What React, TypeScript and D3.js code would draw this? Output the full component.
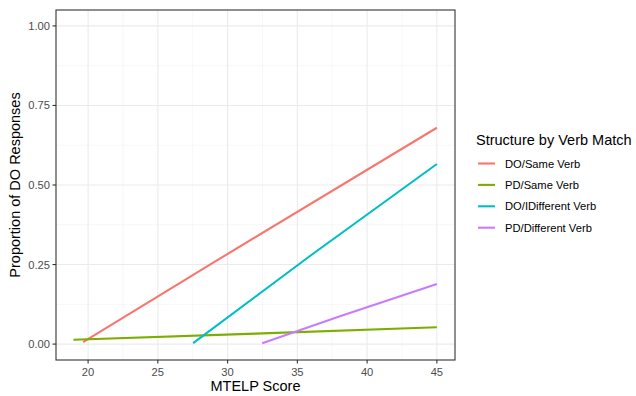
import React from "react";
import * as d3 from "d3";

// fitted lines (MTELP score -> proportion of DO responses)
const groups = ["DO/Same Verb", "PD/Same Verb", "DO/IDifferent Verb", "PD/Different Verb"];
const colors = ["#F8766D", "#7CAE00", "#00BFC4", "#C77CFF"];
const doSameX = [19.64, 29.5, 45];
const doSameY = [0.006, 0.27, 0.68];
const pdSameX = [18.95, 32, 45];
const pdSameY = [0.0135, 0.033, 0.053];
const doDiffX = [27.53, 36, 45];
const doDiffY = [0.003, 0.28, 0.566];
const pdDiffX = [32.48, 38, 45];
const pdDiffY = [0.003, 0.087, 0.189];

const xTicks = [20, 25, 30, 35, 40, 45];
const yTicks = [0, 0.25, 0.5, 0.75, 1];
const xMinor = [22.5, 27.5, 32.5, 37.5, 42.5];
const yMinor = [0.125, 0.375, 0.625, 0.875];

const W = 636, H = 396;
const m = { left: 56, top: 10, right: 455, bottom: 360 };
const font = "'Liberation Sans', Arial, sans-serif";

export default function App() {
  const x = d3.scaleLinear().domain([17.7, 46.3]).range([m.left, m.right]);
  const y = d3.scaleLinear().domain([-0.05, 1.05]).range([m.bottom, m.top]);
  const series = [
    [doSameX, doSameY],
    [pdSameX, pdSameY],
    [doDiffX, doDiffY],
    [pdDiffX, pdDiffY],
  ];
  const ln = d3
    .line<[number, number]>()
    .x((d) => x(d[0]))
    .y((d) => y(d[1]));

  return (
    <svg
      width={W}
      height={H}
      style={{ position: "absolute", left: 0, top: 0, fontFamily: font }}
    >
      <rect width={W} height={H} fill="#fff" />
      {xMinor.map((v) => (
        <line key={"xm" + v} x1={x(v)} x2={x(v)} y1={m.top} y2={m.bottom} stroke="#F2F2F2" strokeWidth={0.6} />
      ))}
      {yMinor.map((v) => (
        <line key={"ym" + v} x1={m.left} x2={m.right} y1={y(v)} y2={y(v)} stroke="#F2F2F2" strokeWidth={0.6} />
      ))}
      {xTicks.map((v) => (
        <line key={"xg" + v} x1={x(v)} x2={x(v)} y1={m.top} y2={m.bottom} stroke="#EBEBEB" strokeWidth={1.1} />
      ))}
      {yTicks.map((v) => (
        <line key={"yg" + v} x1={m.left} x2={m.right} y1={y(v)} y2={y(v)} stroke="#EBEBEB" strokeWidth={1.1} />
      ))}
      {series.map(([xs, ys], i) => (
        <path
          key={groups[i]}
          d={ln(xs.map((v, j) => [v, ys[j]] as [number, number])) || ""}
          fill="none"
          stroke={colors[i]}
          strokeWidth={2.1}
        />
      ))}
      <rect
        x={m.left}
        y={m.top}
        width={m.right - m.left}
        height={m.bottom - m.top}
        fill="none"
        stroke="#333"
        strokeWidth={1.1}
      />
      {xTicks.map((v) => (
        <g key={"xt" + v}>
          <line x1={x(v)} x2={x(v)} y1={m.bottom} y2={m.bottom + 3.5} stroke="#333" strokeWidth={1.1} />
          <text x={x(v)} y={m.bottom + 15.5} textAnchor="middle" fontSize={11.2} fill="#4D4D4D">
            {v}
          </text>
        </g>
      ))}
      {yTicks.map((v) => (
        <g key={"yt" + v}>
          <line x1={m.left - 3.5} x2={m.left} y1={y(v)} y2={y(v)} stroke="#333" strokeWidth={1.1} />
          <text x={m.left - 6} y={y(v) + 4} textAnchor="end" fontSize={11.2} fill="#4D4D4D">
            {d3.format(".2f")(v)}
          </text>
        </g>
      ))}
      <text x={(m.left + m.right) / 2} y={391} textAnchor="middle" fontSize={14.5} fill="#000">
        MTELP Score
      </text>
      <text
        transform={`translate(20,${(m.top + m.bottom) / 2}) rotate(-90)`}
        textAnchor="middle"
        fontSize={14.5}
        fill="#000"
      >
        Proportion of DO Responses
      </text>
      <text x={476} y={145} fontSize={14.5} fill="#000">
        Structure by Verb Match
      </text>
      {groups.map((g, i) => (
        <g key={"lg" + g} transform={`translate(0,${163.5 + i * 21.4})`}>
          <line x1={478} x2={495} y1={0} y2={0} stroke={colors[i]} strokeWidth={2.1} />
          <text x={505} y={4} fontSize={11.2} fill="#000">
            {g}
          </text>
        </g>
      ))}
    </svg>
  );
}
